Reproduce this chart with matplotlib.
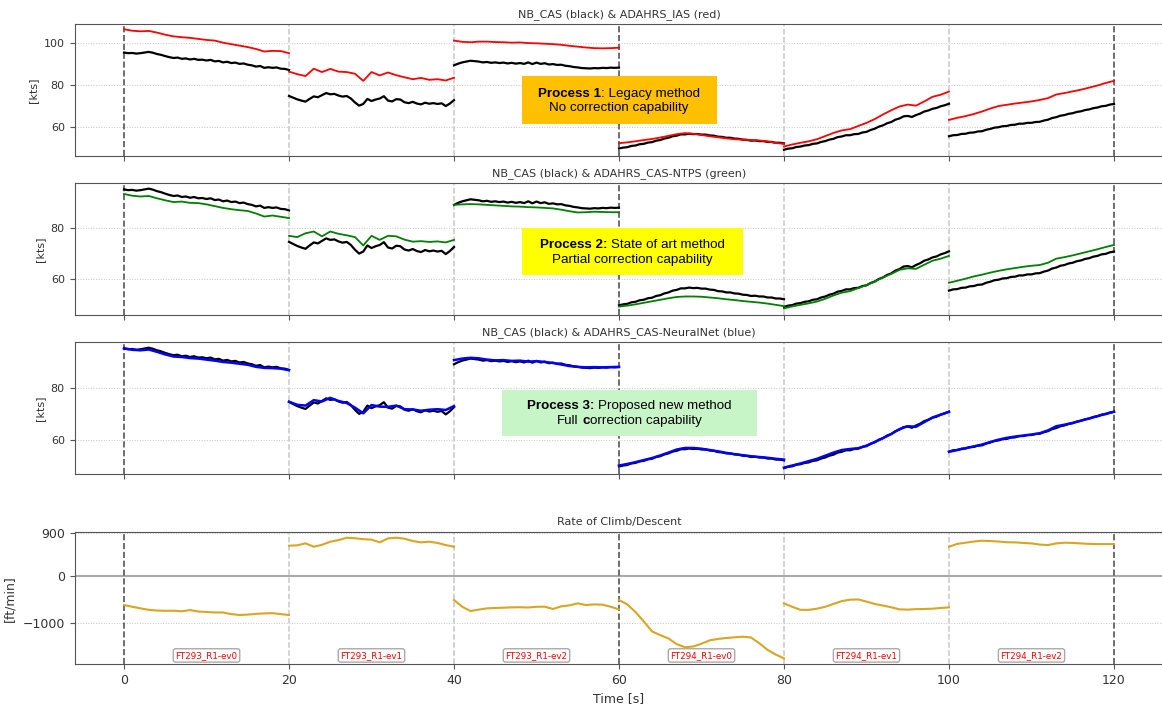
import numpy as np
import matplotlib
matplotlib.use("Agg")
import matplotlib.pyplot as plt
from matplotlib.patches import Rectangle
from matplotlib.ticker import MultipleLocator
from matplotlib.offsetbox import TextArea, HPacker, VPacker, DrawingArea, AnnotationBbox

# -----------------------------
# Flight test events (each event is 20 s long, stacked on one time axis)
# -----------------------------
seg_starts = [0, 20, 40, 60, 80, 100]
seg_names = ['FT293_R1-ev0', 'FT293_R1-ev1', 'FT293_R1-ev2',
             'FT294_R1-ev0', 'FT294_R1-ev1', 'FT294_R1-ev2']

t_fast = np.linspace(0, 20, 41)   # NB_CAS logged every 0.5 s
t_slow = np.linspace(0, 20, 21)   # ADAHRS / ROC logged every 1 s

# reference airspeed NB_CAS [kts]
nb_cas = [
    [95.3, 95.0, 95.1, 94.8, 95.0, 95.3, 95.6, 95.2, 94.6, 94.2, 93.6, 93.1, 92.7, 92.9,
     92.3, 92.5, 92.0, 92.3, 91.8, 91.9, 91.5, 91.8, 91.1, 91.3, 90.6, 90.9, 90.3, 90.5,
     89.9, 90.1, 89.5, 89.2, 88.6, 88.9, 88.0, 88.3, 88.0, 88.2, 87.6, 87.5, 87.0],
    [74.6, 73.8, 73.0, 72.4, 71.9, 73.2, 74.4, 74.0, 75.0, 76.0, 75.4, 75.6, 74.8, 74.3,
     74.6, 73.4, 71.5, 70.0, 70.8, 73.2, 72.2, 72.9, 73.4, 74.5, 72.4, 72.0, 73.1, 72.9,
     71.6, 71.2, 71.8, 71.0, 70.6, 71.4, 70.9, 71.2, 70.8, 71.1, 69.8, 71.0, 72.6],
    [89.2, 90.0, 90.6, 91.0, 91.4, 91.2, 91.0, 90.6, 90.8, 90.4, 90.6, 90.3, 90.5, 90.1,
     90.4, 90.0, 90.3, 89.9, 90.6, 89.8, 90.5, 89.9, 90.2, 89.6, 89.8, 89.4, 89.5, 89.0,
     88.8, 88.4, 88.2, 87.9, 87.8, 87.7, 87.9, 87.8, 88.0, 87.9, 88.1, 88.0, 88.1],
    [49.6, 50.0, 50.2, 50.8, 51.0, 51.6, 51.8, 52.4, 52.6, 53.3, 53.6, 54.3, 54.7, 55.4,
     55.7, 56.3, 56.3, 56.6, 56.4, 56.5, 56.2, 56.2, 55.8, 55.7, 55.2, 55.1, 54.7, 54.7,
     54.3, 54.2, 53.8, 53.7, 53.3, 53.4, 53.1, 53.1, 52.7, 52.7, 52.3, 52.3, 52.0],
    [49.0, 49.5, 49.7, 50.3, 50.5, 51.0, 51.2, 51.8, 52.0, 52.7, 53.1, 53.8, 54.2, 55.0,
     55.3, 55.9, 55.9, 56.4, 56.5, 57.2, 57.5, 58.4, 59.0, 60.0, 60.6, 61.6, 62.2, 63.3,
     63.9, 64.9, 65.1, 64.6, 65.5, 66.2, 67.2, 67.7, 68.5, 68.9, 69.7, 70.2, 70.9],
    [55.4, 55.9, 56.0, 56.5, 56.6, 57.1, 57.2, 57.7, 57.8, 58.5, 58.9, 59.5, 59.7, 60.2,
     60.3, 60.8, 60.9, 61.4, 61.4, 61.8, 61.8, 62.2, 62.3, 62.9, 63.3, 64.1, 64.5, 65.2,
     65.5, 66.1, 66.4, 67.0, 67.3, 67.9, 68.2, 68.8, 69.1, 69.7, 69.9, 70.5, 70.8],
]

# ADAHRS indicated airspeed (no correction) [kts]
adahrs_ias = [
    [106.4, 105.7, 105.4, 105.6, 104.8, 103.8, 103.0, 102.6, 102.3, 101.8, 101.3,
     101.0, 100.0, 99.3, 98.6, 97.9, 97.0, 95.8, 96.1, 96.0, 95.0],
    [86.2, 85.0, 84.1, 87.6, 86.0, 87.5, 86.2, 86.0, 85.2, 81.8, 86.0,
     84.4, 85.8, 84.5, 83.5, 82.6, 83.2, 82.3, 82.6, 82.0, 83.3],
    [101.0, 100.4, 100.2, 100.5, 100.5, 100.3, 100.2, 100.0, 100.1, 99.8, 99.7,
     99.5, 99.3, 99.0, 98.5, 98.1, 97.7, 97.4, 97.3, 97.4, 97.6],
    [52.1, 52.5, 53.0, 53.6, 54.1, 54.8, 55.6, 56.4, 56.9, 56.6, 56.0,
     55.4, 54.9, 54.4, 54.0, 53.8, 53.6, 53.4, 53.0, 52.2, 51.8],
    [50.5, 51.5, 52.3, 53.0, 54.0, 55.5, 57.0, 58.2, 58.8, 60.3, 61.8,
     63.6, 65.8, 67.8, 69.6, 70.5, 70.0, 72.0, 74.2, 75.2, 76.7],
    [63.2, 64.2, 65.0, 66.0, 67.2, 68.6, 69.8, 70.4, 71.0, 71.5, 72.0,
     72.7, 73.6, 75.3, 76.0, 76.8, 77.6, 78.6, 79.6, 80.8, 81.8],
]

# ADAHRS CAS with NTPS correction [kts]
adahrs_ntps = [
    [93.5, 92.8, 92.5, 92.7, 91.8, 91.0, 90.3, 90.5, 90.0, 89.9, 89.4,
     88.7, 88.0, 87.5, 87.1, 86.8, 85.8, 84.6, 85.0, 84.5, 84.0],
    [77.0, 76.5, 78.0, 78.7, 76.8, 78.7, 77.8, 77.2, 76.5, 73.2, 77.0,
     75.4, 77.0, 76.8, 75.5, 74.7, 74.9, 74.6, 74.8, 74.4, 75.4],
    [89.2, 89.4, 89.5, 89.4, 89.2, 89.0, 88.8, 88.6, 88.5, 88.3, 88.2,
     88.0, 87.8, 87.3, 86.7, 86.2, 86.3, 86.5, 86.4, 86.3, 86.3],
    [49.1, 49.5, 50.0, 50.6, 51.2, 51.8, 52.4, 52.9, 53.1, 53.1, 53.0,
     52.7, 52.4, 52.0, 51.7, 51.3, 51.0, 50.7, 50.3, 49.8, 49.3],
    [48.4, 49.2, 49.8, 50.4, 51.1, 52.2, 53.5, 54.6, 55.2, 56.4, 57.6,
     59.0, 60.6, 62.0, 63.6, 64.2, 64.0, 65.6, 67.2, 68.0, 69.1],
    [58.5, 59.3, 60.1, 61.0, 61.7, 62.5, 63.2, 63.8, 64.3, 64.8, 65.2,
     65.5, 66.4, 68.0, 68.6, 69.3, 70.1, 70.9, 71.7, 72.6, 73.4],
]

# ADAHRS CAS with neural network correction [kts]
adahrs_nn = [
    [95.4, 94.8, 94.6, 94.9, 94.0, 93.0, 92.2, 92.0, 91.6, 91.4, 91.0,
     90.6, 90.1, 89.8, 89.4, 89.0, 88.2, 87.8, 87.7, 87.5, 86.9],
    [74.7, 73.5, 73.2, 75.3, 74.8, 76.2, 75.0, 74.2, 72.4, 70.2, 73.4,
     72.8, 72.7, 73.2, 71.8, 71.7, 71.2, 71.6, 71.8, 71.5, 73.0],
    [90.8, 91.4, 91.7, 91.5, 91.0, 90.7, 90.8, 90.5, 90.6, 90.2, 90.4,
     90.1, 89.7, 89.1, 88.5, 88.2, 88.0, 88.1, 88.0, 88.1, 88.2],
    [50.0, 50.6, 51.3, 52.1, 52.9, 53.9, 55.0, 56.2, 56.8, 56.8, 56.5,
     56.0, 55.5, 54.9, 54.4, 54.0, 53.6, 53.3, 53.0, 52.6, 52.3],
    [49.2, 50.0, 50.8, 51.7, 52.6, 53.8, 55.0, 56.0, 56.4, 56.7, 57.7,
     59.1, 60.6, 62.2, 64.1, 65.2, 65.0, 66.8, 68.6, 69.7, 70.8],
    [55.3, 56.0, 56.7, 57.4, 58.1, 59.1, 60.0, 60.7, 61.2, 61.6, 62.0,
     62.5, 63.6, 65.2, 65.8, 66.5, 67.4, 68.2, 69.1, 70.0, 70.8],
]

# rate of climb / descent [ft/min]
roc = [
    [-613, -650, -683, -715, -730, -735, -733, -745, -720, -750, -760,
     -770, -770, -805, -824, -815, -800, -790, -785, -805, -824],
    [641, 650, 691, 620, 660, 726, 760, 810, 800, 780, 770,
     712, 796, 810, 790, 740, 712, 726, 700, 655, 620],
    [-507, -650, -740, -710, -683, -675, -670, -662, -660, -665, -650,
     -648, -697, -640, -620, -578, -613, -600, -605, -650, -705],
    [-507, -600, -760, -960, -1170, -1250, -1320, -1440, -1505, -1490, -1430,
     -1360, -1330, -1310, -1296, -1283, -1300, -1420, -1560, -1660, -1740],
    [-578, -650, -715, -715, -690, -650, -590, -530, -500, -495, -540,
     -590, -625, -660, -705, -710, -700, -697, -690, -675, -662],
    [620, 680, 705, 730, 747, 740, 730, 715, 712, 700, 690,
     665, 655, 690, 705, 700, 690, 680, 676, 676, 676],
]

plt.rcParams['axes.edgecolor'] = '#555555'
plt.rcParams['xtick.color'] = '#555555'
plt.rcParams['ytick.color'] = '#555555'
plt.rcParams['xtick.labelcolor'] = '#333333'
plt.rcParams['ytick.labelcolor'] = '#333333'

W, H = 1162, 707
fig = plt.figure(figsize=(W / 100, H / 100), dpi=100)


def px_axes(left, top, right, bottom):
    return fig.add_axes([left / W, 1 - bottom / H, (right - left) / W, (bottom - top) / H])


ax1 = px_axes(74.5, 24, 1163.5, 156)
ax2 = px_axes(74.5, 183.3, 1163.5, 315)
ax3 = px_axes(74.5, 342.3, 1163.5, 474.3)
ax4 = px_axes(74.5, 532.3, 1163.5, 664)

# -----------------------------
# Airspeed panels
# -----------------------------
panels = [
    (ax1, adahrs_ias, 'red', 1.3, 'NB_CAS (black) & ADAHRS_IAS (red)', (46.0, 108.9)),
    (ax2, adahrs_ntps, 'green', 1.3, 'NB_CAS (black) & ADAHRS_CAS-NTPS (green)', (45.8, 97.7)),
    (ax3, adahrs_nn, 'blue', 1.8, 'NB_CAS (black) & ADAHRS_CAS-NeuralNet (blue)', (46.6, 97.7)),
]
for ax, series, col, lw, title, ylim in panels:
    for i, s in enumerate(seg_starts):
        ax.plot(s + t_fast, nb_cas[i], color='black', lw=1.6, zorder=2)
        ax.plot(s + t_slow, series[i], color=col, lw=lw, zorder=3)
    ax.set_ylim(*ylim)
    ax.yaxis.set_major_locator(MultipleLocator(20))
    ax.set_ylabel('[kts]', fontsize=8, color='#333333')
    ax.set_title(title, fontsize=8, color='#333333', pad=5)
    ax.tick_params(labelbottom=False, labelsize=8)

# -----------------------------
# Rate of climb panel
# -----------------------------
for i, s in enumerate(seg_starts):
    ax4.plot(s + t_slow, roc[i], color='goldenrod', lw=1.5, zorder=3)
ax4.axhline(0, color='#aaaaaa', lw=1.5, zorder=1)
ax4.set_ylim(-1860, 925)
ax4.set_yticks([-1000, 0, 900])
ax4.set_ylabel('[ft/min]', fontsize=9, color='#333333')
ax4.set_xlabel('Time [s]', fontsize=9, color='#333333')
ax4.set_title('Rate of Climb/Descent', fontsize=8, color='#333333', pad=5)
ax4.tick_params(labelsize=9)
for s, name in zip(seg_starts, seg_names):
    ax4.text(s + 10, 0.065, name, transform=ax4.get_xaxis_transform(),
             ha='center', va='center', fontsize=6.3, color='red', zorder=4,
             bbox=dict(boxstyle='round,pad=0.25', fc='white', ec='#aaaaaa', lw=1))

# shared x axis, event separators and grid
for ax in [ax1, ax2, ax3, ax4]:
    ax.set_xlim(-6, 126)
    ax.set_xticks(range(0, 121, 20))
    for x in range(0, 121, 20):
        if x % 60 == 0:
            ax.axvline(x, color='#555555', ls='--', lw=1.2, zorder=1)
        else:
            ax.axvline(x, color='#c8c8c8', ls='--', lw=1.1, zorder=1)
    ax.grid(axis='y', ls=':', color='#c8c8c8', lw=0.7)
    ax.set_axisbelow(True)

# -----------------------------
# Method call-out boxes
# -----------------------------
FS = 9.6
SPACE = 0.278 * FS


def piece(txt, bold=False):
    return TextArea(txt, textprops=dict(fontsize=FS, family='Liberation Sans',
                                        fontweight='bold' if bold else 'normal',
                                        color='black'))


def gap():
    return DrawingArea(SPACE, 1)


callouts = [
    ((521.7, 76, 716.7, 124), '#FFC000',
     [[piece('Process 1', True), piece(': Legacy method')],
      [piece('No correction capability')]]),
    ((521.7, 228.3, 742.7, 275), '#FFFF00',
     [[piece('Process 2:', True), gap(), piece('State of art method')],
      [piece('Partial correction capability')]]),
    ((501.7, 390, 757.3, 435.7), '#C8F5C8',
     [[piece('Process 3:', True), gap(), piece('Proposed new method')],
      [piece('Full'), gap(), piece('c', True), piece('orrection capability')]]),
]
for (x0, y0, x1, y1), fc, lines in callouts:
    fig.add_artist(Rectangle((x0 / W, 1 - y1 / H), (x1 - x0) / W, (y1 - y0) / H,
                             transform=fig.transFigure, facecolor=fc,
                             edgecolor='none', zorder=5))
    rows = [HPacker(children=row, sep=0, pad=0, align='baseline') for row in lines]
    block = VPacker(children=rows, sep=2, pad=0, align='center')
    ab = AnnotationBbox(block, ((x0 + x1) / 2 / W, 1 - ((y0 + y1) / 2 + 1) / H),
                        xycoords='figure fraction', frameon=False,
                        box_alignment=(0.5, 0.5), zorder=6)
    fig.add_artist(ab)

plt.savefig('out.png', dpi=100)
